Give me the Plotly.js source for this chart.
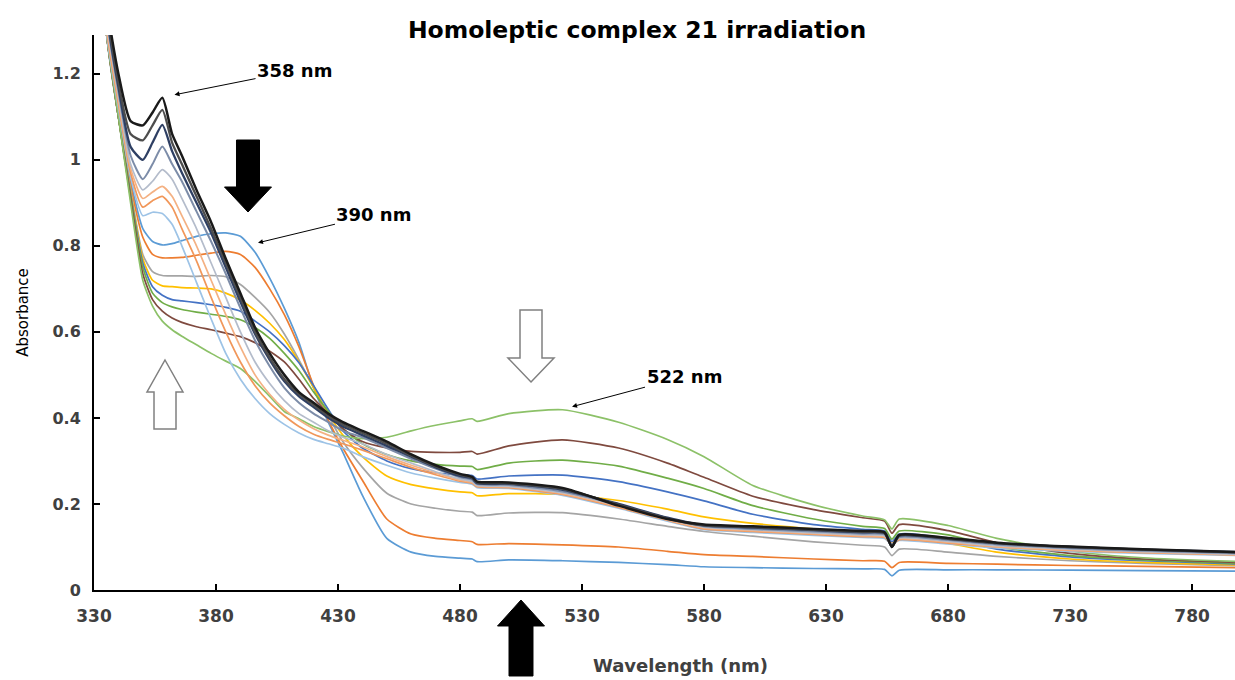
<!DOCTYPE html>
<html>
<head>
<meta charset="utf-8">
<script src="https://cdn.plot.ly/plotly-3.0.1.min.js"></script>
<style>html,body{margin:0;padding:0;background:#fff;}#chart{width:1235px;height:680px;}</style>
</head>
<body>
<div id="chart"></div>
<script>
// Wavelength grid (nm)
const wavelength = [330,335,340,345,350,354,358,362,366,372,378,384,390,396,402,408,414,420,426,432,440,450,460,470,480,485,487,500,522,545,565,580,600,625,645,654,657,660,680,700,730,760,800];

// First irradiation stage (390 nm band decreases, visible band grows)
const absA1 = [1.75,1.3,1.1,0.95,0.84, 0.81,0.802,0.805,0.812,0.822, 0.828,0.83,0.822,0.785,0.725, 0.655,0.575,0.47,0.39,0.32, 0.22,0.12,0.088,0.078,0.074, 0.072,0.066,0.07,0.068,0.064, 0.059,0.054,0.052,0.05,0.049, 0.048,0.033,0.046,0.047,0.047, 0.046,0.045,0.044];
const absA2 = [1.75,1.3,1.1,0.94,0.82, 0.78,0.772,0.772,0.773,0.778, 0.783,0.787,0.78,0.75,0.7, 0.64,0.565,0.475,0.395,0.33, 0.255,0.165,0.13,0.12,0.115, 0.112,0.106,0.108,0.105,0.1, 0.09,0.082,0.078,0.072,0.068, 0.067,0.052,0.064,0.062,0.06, 0.057,0.055,0.052];
const absA3 = [1.75,1.3,1.1,0.93,0.78, 0.74,0.731,0.73,0.73,0.729, 0.731,0.728,0.71,0.68,0.645, 0.595,0.535,0.47,0.405,0.345, 0.285,0.225,0.2,0.19,0.183, 0.181,0.173,0.179,0.18,0.165, 0.148,0.136,0.125,0.112,0.104, 0.1,0.08,0.095,0.088,0.078, 0.068,0.062,0.056];
const absA4 = [1.75,1.3,1.1,0.925,0.77, 0.72,0.707,0.705,0.703,0.702, 0.7,0.69,0.674,0.65,0.62, 0.582,0.53,0.47,0.41,0.36, 0.31,0.265,0.245,0.235,0.228, 0.226,0.219,0.224,0.222,0.208, 0.188,0.17,0.155,0.142,0.133, 0.129,0.108,0.122,0.108,0.088, 0.072,0.064,0.058];
const absA5 = [1.75,1.3,1.1,0.92,0.76, 0.705,0.685,0.675,0.672,0.668, 0.663,0.657,0.648,0.625,0.6, 0.568,0.528,0.475,0.42,0.37, 0.33,0.3,0.282,0.272,0.268, 0.266,0.258,0.265,0.267,0.252, 0.228,0.207,0.176,0.152,0.141, 0.137,0.112,0.13,0.12,0.095, 0.077,0.068,0.06];
const absA6 = [1.75,1.3,1.1,0.915,0.75, 0.69,0.668,0.658,0.652,0.646, 0.641,0.636,0.628,0.61,0.585, 0.55,0.51,0.46,0.415,0.375, 0.34,0.315,0.3,0.292,0.288, 0.287,0.28,0.295,0.302,0.288, 0.26,0.236,0.196,0.165,0.148, 0.143,0.118,0.137,0.128,0.1, 0.08,0.07,0.062];
const absA7 = [1.75,1.3,1.1,0.91,0.735, 0.675,0.648,0.632,0.622,0.612, 0.605,0.597,0.589,0.575,0.555, 0.53,0.49,0.445,0.41,0.375, 0.345,0.33,0.322,0.32,0.32, 0.322,0.316,0.335,0.349,0.33, 0.295,0.262,0.218,0.187,0.168, 0.16,0.132,0.152,0.138,0.11, 0.085,0.072,0.064];
const absA8 = [1.75,1.3,1.1,0.9,0.72, 0.66,0.625,0.605,0.59,0.57, 0.55,0.532,0.515,0.485,0.45, 0.415,0.398,0.38,0.368,0.358, 0.352,0.355,0.37,0.383,0.393, 0.398,0.392,0.41,0.419,0.39, 0.35,0.31,0.243,0.198,0.172, 0.163,0.142,0.165,0.15,0.12, 0.09,0.075,0.066];

// Second irradiation stage (358 nm band grows back)
const absB1 = [1.75,1.3,1.12,0.96,0.87, 0.878,0.875,0.85,0.8,0.715, 0.63,0.55,0.49,0.445,0.41, 0.385,0.365,0.35,0.34,0.33, 0.31,0.29,0.272,0.26,0.25, 0.246,0.238,0.236,0.22,0.19, 0.16,0.14,0.134,0.127,0.122, 0.12,0.106,0.115,0.107,0.098, 0.09,0.085,0.08];
const absB2 = [1.75,1.31,1.13,0.97,0.89, 0.905,0.915,0.89,0.84,0.765, 0.68,0.6,0.53,0.475,0.435, 0.405,0.38,0.362,0.35,0.34, 0.325,0.305,0.285,0.268,0.253, 0.248,0.24,0.238,0.222,0.192, 0.162,0.142,0.136,0.129,0.124, 0.122,0.106,0.117,0.109,0.1, 0.092,0.087,0.081];
const absB3 = [1.75,1.32,1.14,0.98,0.91, 0.925,0.938,0.915,0.87,0.8, 0.72,0.64,0.565,0.5,0.455, 0.42,0.395,0.375,0.36,0.348, 0.333,0.31,0.29,0.272,0.255, 0.25,0.242,0.24,0.224,0.194, 0.163,0.144,0.138,0.131,0.126, 0.124,0.108,0.119,0.111,0.101, 0.093,0.088,0.082];
const absB4 = [1.75,1.33,1.15,0.99,0.93, 0.95,0.977,0.955,0.91,0.84, 0.76,0.68,0.6,0.53,0.48, 0.44,0.41,0.39,0.37,0.355, 0.34,0.315,0.295,0.275,0.258, 0.252,0.243,0.241,0.226,0.196, 0.165,0.146,0.14,0.133,0.128, 0.126,0.106,0.121,0.113,0.103, 0.095,0.089,0.083];
const absB5 = [1.75,1.34,1.16,1.01,0.955, 0.99,1.031,0.99,0.95,0.88, 0.81,0.735,0.655,0.58,0.52, 0.47,0.435,0.41,0.39,0.37, 0.355,0.33,0.305,0.282,0.262, 0.256,0.246,0.244,0.229,0.198, 0.167,0.148,0.142,0.136,0.131, 0.129,0.104,0.123,0.116,0.106, 0.097,0.091,0.085];
const absB6 = [1.75,1.35,1.17,1.03,1.0, 1.04,1.081,1.02,0.97,0.9, 0.83,0.75,0.67,0.595,0.535, 0.485,0.45,0.425,0.4,0.38, 0.36,0.335,0.31,0.285,0.265, 0.259,0.248,0.247,0.233,0.2, 0.168,0.15,0.145,0.139,0.134, 0.132,0.1,0.126,0.119,0.109, 0.1,0.094,0.088];
const absB7 = [1.75,1.36,1.18,1.06,1.045, 1.08,1.116,1.04,0.99,0.915, 0.84,0.76,0.68,0.6,0.54, 0.49,0.455,0.43,0.405,0.385, 0.365,0.34,0.312,0.287,0.268, 0.261,0.25,0.248,0.235,0.198, 0.166,0.15,0.146,0.14,0.135, 0.133,0.1,0.127,0.119,0.109, 0.1,0.094,0.087];
const absB8 = [1.75,1.37,1.2,1.09,1.08, 1.11,1.144,1.06,1.01,0.93, 0.855,0.77,0.69,0.61,0.55, 0.5,0.46,0.435,0.41,0.39, 0.37,0.345,0.315,0.29,0.27, 0.263,0.252,0.25,0.237,0.196, 0.165,0.152,0.148,0.142,0.137, 0.134,0.1,0.128,0.121,0.11, 0.101,0.095,0.088];

const seriesList = [absA1,absA2,absA3,absA4,absA5,absA6,absA7,absA8,absB1,absB2,absB3,absB4,absB5,absB6,absB7,absB8];
const xTickVals = [330,380,430,480,530,580,630,680,730,780];
const yTickVals = [0,0.2,0.4,0.6,0.8,1,1.2];
const yTickText = ["0","0.2","0.4","0.6","0.8","1","1.2"];

// styles
const lineColors = ["#5B9BD5","#ED7D31","#A5A5A5","#FFC000","#4472C4","#70AD47","#7F4A3F","#8CC168",
                    "#9DC3E6","#F1975A","#F4B183","#B4BCCB","#7C8CA8","#2E3F63","#4D4D4D","#1A1A1A"];
const lineWidths = [1.7,1.7,1.7,1.7,1.7,1.7,1.7,1.7, 1.7,1.7,1.7,1.7,2,2.3,2.3,2.5];

const traces = seriesList.map((s,i)=>({
  x: wavelength, y: s, type:'scatter', mode:'lines',
  line:{color: lineColors[i], width: lineWidths[i], shape:'spline', smoothing:0.6},
  hoverinfo:'skip', showlegend:false
}));

// pixel -> paper helpers for decorative block arrows
const L=94, R=1235, T=35, B=590;
const px = v => (v-L)/(R-L);
const py = v => (B-v)/(B-T);
function arrowPath(cx, tipY, headY, endY, headHalf, shaftHalf){
  const pts = [[cx,tipY],[cx+headHalf,headY],[cx+shaftHalf,headY],[cx+shaftHalf,endY],[cx-shaftHalf,endY],[cx-shaftHalf,headY],[cx-headHalf,headY]];
  return 'M' + pts.map(p=>px(p[0]).toFixed(5)+','+py(p[1]).toFixed(5)).join(' L') + ' Z';
}
const shapes = [
  {type:'path', xref:'paper', yref:'paper', path: arrowPath(248, 212, 187, 140, 23.5, 11.5), fillcolor:'#000', line:{color:'#000', width:1}},
  {type:'path', xref:'paper', yref:'paper', path: arrowPath(521, 600, 626, 676, 23.5, 12), fillcolor:'#000', line:{color:'#000', width:1}},
  {type:'path', xref:'paper', yref:'paper', path: arrowPath(165, 360, 392, 429, 18, 11), fillcolor:'#fff', line:{color:'#808080', width:1.5}},
  {type:'path', xref:'paper', yref:'paper', path: arrowPath(531, 382, 358, 310, 23, 11), fillcolor:'#fff', line:{color:'#808080', width:1.5}}
];

const FONT = 'DejaVu Sans';
const annFont = {family: FONT, size: 18, color:'#000', weight:'bold'};
const annotations = [
  {x:363, y:1.151, xref:'x', yref:'y', text:'358 nm', showarrow:true, ax:120, ay:-24, arrowhead:2, arrowsize:1, arrowwidth:1, arrowcolor:'#000', font:annFont},
  {x:397.2, y:0.807, xref:'x', yref:'y', text:'390 nm', showarrow:true, ax:116, ay:-28, arrowhead:2, arrowsize:1, arrowwidth:1, arrowcolor:'#000', font:annFont},
  {x:525.9, y:0.426, xref:'x', yref:'y', text:'522 nm', showarrow:true, ax:112, ay:-30, arrowhead:2, arrowsize:1, arrowwidth:1, arrowcolor:'#000', font:annFont},
  {x:px(680), y:py(665), xref:'paper', yref:'paper', xanchor:'center', yanchor:'middle', text:'Wavelength (nm)', showarrow:false,
   font:{family:FONT, size:18, color:'#404040', weight:'bold'}}
];

const layout = {
  width:1235, height:680,
  margin:{l:94, r:0, t:35, b:90, pad:0},
  paper_bgcolor:'#fff', plot_bgcolor:'#fff',
  showlegend:false,
  title:{text:'Homoleptic complex 21 irradiation', x:637/1235, xanchor:'center', y:1-30/680, yanchor:'middle', yref:'container',
         font:{family:FONT, size:23.5, color:'#000', weight:'bold'}},
  xaxis:{range:[330,797.6], tickmode:'array', tickvals:xTickVals, ticks:'inside', ticklen:6, tickwidth:2, tickcolor:'#000',
         showline:true, linecolor:'#000', linewidth:2, showgrid:false, zeroline:false, ticklabelstandoff:10,
         tickfont:{family:FONT, size:17, color:'#404040', weight:'bold'}},
  yaxis:{range:[0,1.29], tickmode:'array', tickvals:yTickVals, ticktext:yTickText, ticks:'inside', ticklen:6, tickwidth:2, tickcolor:'#000',
         showline:true, linecolor:'#000', linewidth:2, showgrid:false, zeroline:false, ticklabelstandoff:8,
         tickfont:{family:FONT, size:16, color:'#404040', weight:'bold'},
         title:{text:'Absorbance', standoff:20, font:{family:FONT, size:15, color:'#000'}}},
  shapes: shapes,
  annotations: annotations
};

Plotly.newPlot('chart', traces, layout, {displayModeBar:false, staticPlot:true});
</script>
</body>
</html>
